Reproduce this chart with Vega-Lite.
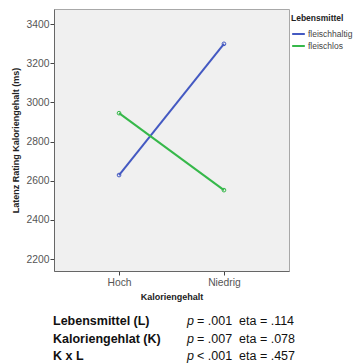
{
  "$schema": "https://vega.github.io/schema/vega-lite/v6.json",
  "padding": {"left": 10, "top": 8, "right": 0, "bottom": 0},
  "config": {
    "font": "Liberation Sans",
    "view": {"fill": "#F0F0F0", "stroke": "#A8A8A8", "strokeWidth": 1}
  },
  "spacing": 13,
  "vconcat": [
    {
      "width": 235,
      "height": 262,
      "data": {"values": [
        {"kal": "Hoch", "leb": "fleischhaltig", "lat": 2629},
        {"kal": "Niedrig", "leb": "fleischhaltig", "lat": 3299},
        {"kal": "Hoch", "leb": "fleischlos", "lat": 2945},
        {"kal": "Niedrig", "leb": "fleischlos", "lat": 2552}
      ]},
      "encoding": {
        "x": {
          "field": "kal", "type": "nominal", "sort": ["Hoch", "Niedrig"],
          "scale": {"type": "point", "padding": 0.62},
          "axis": {
            "title": "Kaloriengehalt", "labelAngle": 0, "labelFontSize": 10.3, "labelColor": "#555",
            "tickSize": 4, "tickColor": "#444", "domainColor": "#666", "labelPadding": 2,
            "titleFontSize": 9, "titleFontWeight": "bold", "titleColor": "#222", "titlePadding": 5, "grid": false
          }
        },
        "y": {
          "field": "lat", "type": "quantitative",
          "scale": {"domain": [2139, 3477], "nice": false, "zero": false},
          "axis": {
            "title": "Latenz Rating Kaloriengehalt (ms)", "values": [2200, 2400, 2600, 2800, 3000, 3200, 3400],
            "format": "d", "labelFontSize": 10.3, "labelColor": "#555", "tickSize": 4, "tickColor": "#444",
            "domainColor": "#666", "labelPadding": 1, "titleFontSize": 9, "titleFontWeight": "bold",
            "titleColor": "#222", "titlePadding": 6, "grid": false
          }
        },
        "color": {
          "field": "leb", "type": "nominal",
          "scale": {"domain": ["fleischhaltig", "fleischlos"], "range": ["#4459C2", "#36B84A"]},
          "legend": {
            "title": "Lebensmittel", "orient": "right", "offset": -9, "padding": 5,
            "symbolType": "stroke", "symbolSize": 160, "symbolStrokeWidth": 2,
            "titleFontSize": 8.5, "titleFontWeight": "bold", "titleColor": "#222", "titlePadding": 4,
            "labelFontSize": 8.5, "labelColor": "#444", "labelOffset": 2, "rowPadding": -2
          }
        }
      },
      "layer": [
        {"mark": {"type": "line", "strokeWidth": 2}},
        {"mark": {"type": "point", "filled": false, "size": 14, "strokeWidth": 1, "opacity": 1}}
      ]
    },
    {
      "width": 235,
      "height": 45,
      "view": {"fill": null, "stroke": null},
      "data": {"values": [
        {"row": 1, "col": "name", "part": "name", "txt": "Lebensmittel (L)"},
        {"row": 2, "col": "name", "part": "name", "txt": "Kaloriengehlat (K)"},
        {"row": 3, "col": "name", "part": "name", "txt": "K x L"},
        {"row": 1, "col": "stat", "part": "p", "txt": "p"},
        {"row": 2, "col": "stat", "part": "p", "txt": "p"},
        {"row": 3, "col": "stat", "part": "p", "txt": "p"},
        {"row": 1, "col": "stat", "part": "rest", "txt": "= .001 \u00a0eta = .114"},
        {"row": 2, "col": "stat", "part": "rest", "txt": "= .007 \u00a0eta = .078"},
        {"row": 3, "col": "stat", "part": "rest", "txt": "< .001 \u00a0eta = .457"}
      ]},
      "encoding": {
        "x": {"field": "col", "type": "nominal", "scale": {"type": "point", "domain": ["name", "stat"], "range": [-1, 133], "padding": 0}, "axis": null},
        "y": {"field": "row", "type": "ordinal", "scale": {"type": "point", "domain": [1, 2, 3], "range": [10, 45], "padding": 0}, "axis": null},
        "text": {"field": "txt"}
      },
      "layer": [
        {"transform": [{"filter": "datum.part === 'name'"}],
         "mark": {"type": "text", "align": "left", "baseline": "alphabetic", "fontSize": 12.5, "fontWeight": "bold", "color": "#111"}},
        {"transform": [{"filter": "datum.part === 'p'"}],
         "mark": {"type": "text", "align": "left", "baseline": "alphabetic", "fontSize": 12.5, "fontStyle": "italic", "color": "#111"}},
        {"transform": [{"filter": "datum.part === 'rest'"}],
         "mark": {"type": "text", "align": "left", "baseline": "alphabetic", "fontSize": 12.5, "dx": 10, "color": "#111"}}
      ]
    }
  ]
}
